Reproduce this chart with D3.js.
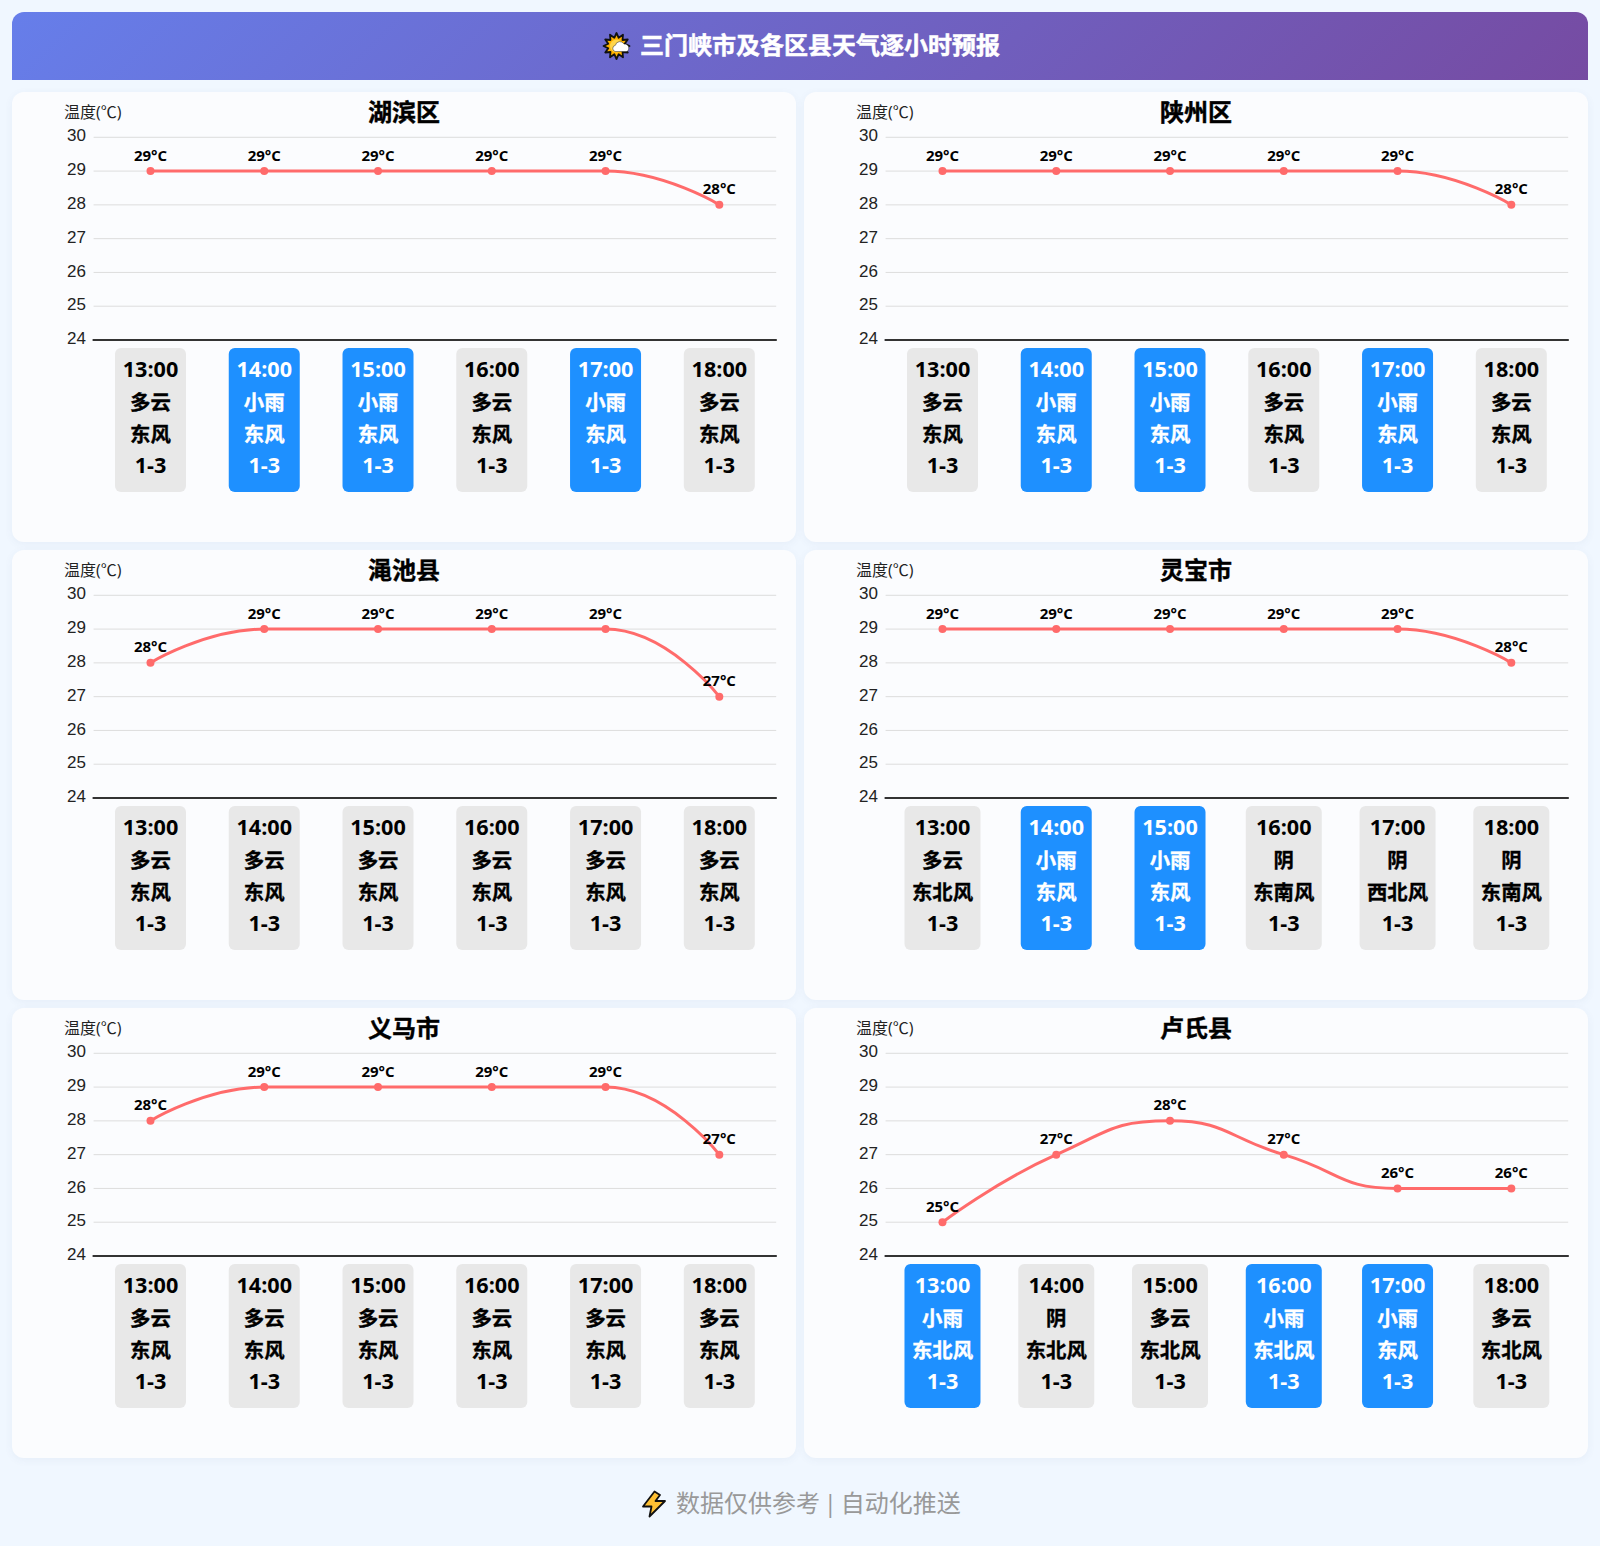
<!DOCTYPE html>
<html lang="zh-CN">
<head>
<meta charset="utf-8">
<script src="https://cdn.jsdelivr.net/npm/d3@7/dist/d3.min.js"></script>
<style>
html,body{margin:0;padding:0;background:#f0f7ff;width:1600px;height:1546px;overflow:hidden;font-family:"Open Sans","Noto Sans CJK SC",sans-serif}
.hdr{position:absolute;left:12px;top:12px;width:1576px;height:68px;border-radius:12px 12px 0 0;background:linear-gradient(135deg,#667eea,#764ba2)}
.hdr .t{position:absolute;left:628px;top:0;line-height:66px;font-size:24px;font-weight:700;color:#fff;white-space:nowrap;-webkit-text-stroke:.5px #fff}
.hdr svg{position:absolute;left:590px;top:19px}
.card{position:absolute;width:784px;height:450px;border-radius:12px;background:#fbfcfe;box-shadow:0 2px 8px rgba(60,90,140,.06)}
.card svg{position:absolute;left:0;top:0}
.foot{position:absolute;left:676px;top:1486px;line-height:34px;font-size:24px;color:#999;white-space:nowrap;word-spacing:-2.4px}
.bolt{position:absolute;left:640px;top:1489px}
</style>
</head>
<body>
<div id="root"></div>
<script>
const hours = ["13:00","14:00","15:00","16:00","17:00","18:00"];
const yTicks = [24,25,26,27,28,29,30];
const districts = ["湖滨区","陕州区","渑池县","灵宝市","义马市","卢氏县"];
const temps = [
  [29,29,29,29,29,28],
  [29,29,29,29,29,28],
  [28,29,29,29,29,27],
  [29,29,29,29,29,28],
  [28,29,29,29,29,27],
  [25,27,28,27,26,26]
];
const weather = [
  ["多云","小雨","小雨","多云","小雨","多云"],
  ["多云","小雨","小雨","多云","小雨","多云"],
  ["多云","多云","多云","多云","多云","多云"],
  ["多云","小雨","小雨","阴","阴","阴"],
  ["多云","多云","多云","多云","多云","多云"],
  ["小雨","阴","多云","小雨","小雨","多云"]
];
const winds = [
  ["东风","东风","东风","东风","东风","东风"],
  ["东风","东风","东风","东风","东风","东风"],
  ["东风","东风","东风","东风","东风","东风"],
  ["东北风","东风","东风","东南风","西北风","东南风"],
  ["东风","东风","东风","东风","东风","东风"],
  ["东北风","东北风","东北风","东北风","东风","东北风"]
];
const windLevel = "1-3";

// ECharts-style smooth line as a d3 curve factory
function smoothCurve(ctx){
  let pts=[];
  return {
    lineStart(){pts=[];},
    lineEnd(){
      const s=0.5,n=pts.length;
      const clamp=(v,a,b)=>Math.max(Math.min(v,Math.max(a,b)),Math.min(a,b));
      ctx.moveTo(pts[0][0],pts[0][1]);
      let cx=pts[0][0],cy=pts[0][1];
      for(let i=1;i<n;i++){
        const [px,py]=pts[i-1],[x,y]=pts[i];
        let c0x=x,c0y=y,c1x=x,c1y=y;
        if(i<n-1){
          const [nx,ny]=pts[i+1];
          const l0=Math.hypot(x-px,y-py),l1=Math.hypot(nx-x,ny-y);
          const r=l1/(l0+l1);
          let vx=nx-px,vy=ny-py;
          c1x=clamp(x+vx*s*r,nx,x);c1y=clamp(y+vy*s*r,ny,y);
          vx=c1x-x;vy=c1y-y;
          c0x=clamp(x-vx*l0/l1,px,x);c0y=clamp(y-vy*l0/l1,py,y);
          vx=x-c0x;vy=y-c0y;
          c1x=x+vx*l1/l0;c1y=y+vy*l1/l0;
        }
        ctx.bezierCurveTo(cx,cy,c0x,c0y,x,y);
        cx=c1x;cy=c1y;
      }
    },
    point(x,y){pts.push([x,y]);}
  };
}

const root=d3.select("#root");
const hdr=root.append("div").attr("class","hdr");
const hi=hdr.append("svg").attr("width",30).attr("height",30);
const rays=d3.range(24).map(i=>[i*Math.PI/12,i%2?8.5:13]);
hi.append("path").attr("transform","translate(14.5,15)")
  .attr("d",d3.lineRadial().curve(d3.curveLinearClosed)(rays))
  .attr("fill","#ffb300").attr("stroke","#111").attr("stroke-width",1.8).attr("stroke-linejoin","round");
hi.append("circle").attr("cx",14.5).attr("cy",15).attr("r",6.5).attr("fill","#ffd54a");
hi.append("path").attr("d","M13 20.5a3.2 3.2 0 0 1 .4-6.2 4.6 4.6 0 0 1 8.6-1.2 4 4 0 0 1 4.8 3.8 3.6 3.6 0 0 1-1.8 3.6z")
  .attr("fill","#fff").attr("stroke","#222").attr("stroke-width",.5);
hdr.append("div").attr("class","t").text("三门峡市及各区县天气逐小时预报");

const cardW=784,cardH=450,plotL=81.6,plotR=764.2,plotT=45.3,plotB=248;
const x=d3.scaleBand().domain(hours).range([plotL,plotR]);
const y=d3.scaleLinear().domain([24,30]).range([plotB,plotT]);
const line=d3.line().x((d,i)=>x(hours[i])+x.bandwidth()/2).y(d=>y(d)).curve(smoothCurve);

districts.forEach((name,k)=>{
  const col=k%2,row=Math.floor(k/2);
  const card=root.append("div").attr("class","card")
    .style("left",(12+col*792)+"px").style("top",(92+row*458)+"px");
  const svg=card.append("svg").attr("width",cardW).attr("height",cardH);

  svg.append("text").attr("x",cardW/2).attr("y",28.5).attr("text-anchor","middle")
    .attr("font-size",24).attr("font-weight",700).attr("fill","#000")
    .attr("stroke","#000").attr("stroke-width",.4).text(name);
  svg.append("text").attr("x",52).attr("y",25.5).attr("font-size",16).attr("fill","#222").text("温度(℃)");

  const ya=svg.append("g").attr("transform",`translate(${plotL},0)`)
    .call(d3.axisLeft(y).tickValues(yTicks).tickSize(0).tickPadding(7.6).tickFormat(d3.format("d")));
  ya.select(".domain").remove();
  ya.selectAll("text").attr("font-size",17).attr("font-family","inherit").attr("fill","#222").attr("dy","0.21em");
  svg.append("g").selectAll("line").data(yTicks.filter(t=>t>24)).join("line")
    .attr("x1",plotL).attr("x2",plotR).attr("y1",d=>y(d)).attr("y2",d=>y(d))
    .attr("stroke","#ddd").attr("stroke-width",1);
  svg.append("line").attr("x1",plotL-1).attr("x2",plotR+.6).attr("y1",y(24)).attr("y2",y(24))
    .attr("stroke","#333").attr("stroke-width",2);

  svg.append("path").datum(temps[k]).attr("d",line)
    .attr("fill","none").attr("stroke","#ff6b6b").attr("stroke-width",3);
  svg.append("g").selectAll("circle").data(temps[k]).join("circle")
    .attr("cx",(d,i)=>x(hours[i])+x.bandwidth()/2).attr("cy",d=>y(d)).attr("r",4).attr("fill","#ff6b6b");
  svg.append("g").selectAll("text").data(temps[k]).join("text")
    .attr("x",(d,i)=>x(hours[i])+x.bandwidth()/2).attr("y",d=>y(d)-10.5)
    .attr("text-anchor","middle").attr("font-size",15).attr("font-weight",700).attr("fill","#000")
    .text(d=>d+"°C");

  const boxes=svg.append("g").selectAll("g").data(hours).join("g")
    .attr("transform",h=>`translate(${x(h)+x.bandwidth()/2},256)`);
  boxes.append("rect")
    .attr("x",(h,i)=>winds[k][i].length>2?-38:-35.5)
    .attr("width",(h,i)=>winds[k][i].length>2?76:71)
    .attr("height",144).attr("rx",6)
    .attr("fill",(h,i)=>weather[k][i]==="小雨"?"#1e90ff":"#e8e8e8");
  boxes.each(function(h,i){
    const rows=[h,weather[k][i],winds[k][i],windLevel];
    const ink=weather[k][i]==="小雨"?"#fff":"#000";
    d3.select(this).selectAll("text").data(rows).join("text")
      .attr("text-anchor","middle")
      .attr("y",(d,j)=>(j===0||j===3?29:29.5)+j*32)
      .attr("font-size",(d,j)=>j===0||j===3?21.6:20.4).attr("font-weight",700)
      .attr("fill",ink)
      .attr("stroke",(d,j)=>j===0||j===3?"none":ink).attr("stroke-width",.35)
      .text(d=>d);
  });
});

const bolt=root.append("svg").attr("class","bolt").attr("width",28).attr("height",30);
bolt.append("path").attr("d","M14.5 2.5 3 17.5h8.5L9.5 27.5 25 12h-9.5L20 6z")
  .attr("fill","#ffc033").attr("stroke","#111").attr("stroke-width",1.8).attr("stroke-linejoin","round");
root.append("div").attr("class","foot").text("数据仅供参考 | 自动化推送");
</script>
</body>
</html>
